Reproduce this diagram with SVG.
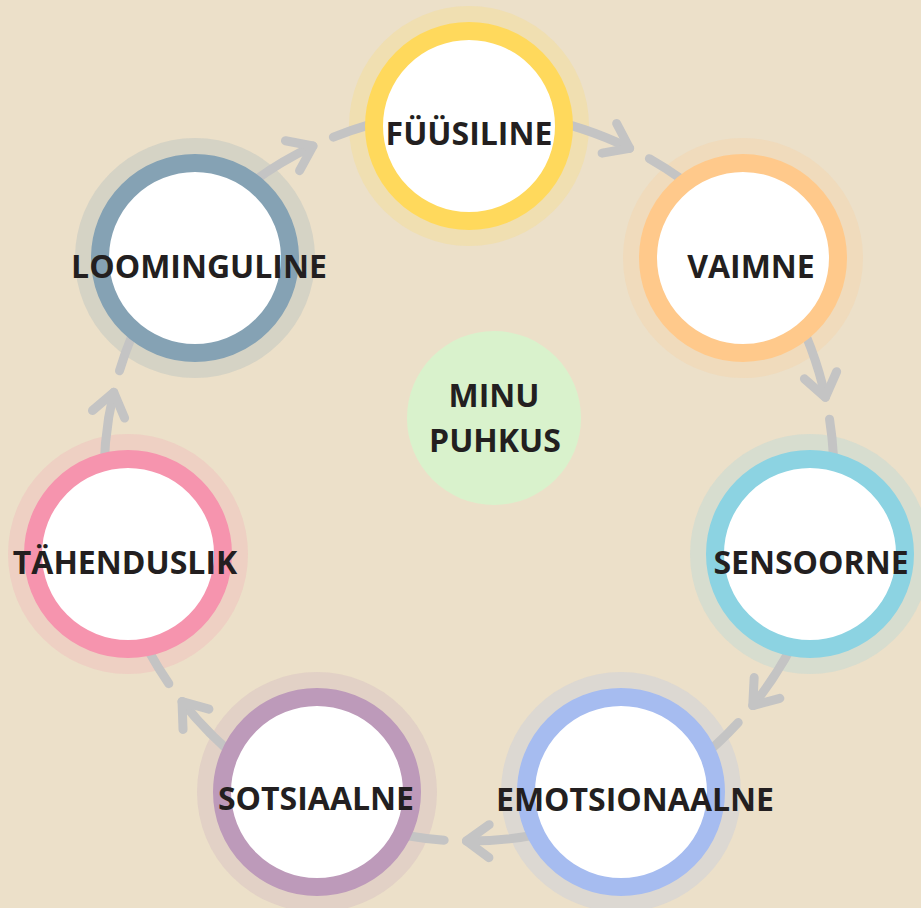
<svg xmlns="http://www.w3.org/2000/svg" width="921" height="908" viewBox="0 0 921 908">
<style>
.bg{fill:#ECE0C9}
.halo{opacity:0.22}
.ring{fill:#FFFFFF;stroke-width:18}
.lbl{font-family:"Open Sans","Liberation Sans",sans-serif;font-weight:700;font-size:32px;fill:#231F20;text-anchor:middle}
.con{fill:none;stroke:#C4C4C4;stroke-width:9;stroke-linecap:round;stroke-linejoin:round}
</style>
<defs>
<marker id="chev" markerUnits="userSpaceOnUse" orient="auto" overflow="visible" markerWidth="1" markerHeight="1" refX="0" refY="0">
<path d="M -22.6 -16.5 L 0 0 L -22.6 16.5" fill="none" stroke="#C4C4C4" stroke-width="9" stroke-linecap="round" stroke-linejoin="round"/>
</marker>
</defs>
<rect class="bg" x="0" y="0" width="921" height="908"/>
<g id="halos">
<circle class="halo" cx="469" cy="126" r="120" fill="#FFD95C"/>
<circle class="halo" cx="743" cy="258" r="120" fill="#FFC98B"/>
<circle class="halo" cx="810" cy="554" r="120" fill="#8CD3E2"/>
<circle class="halo" cx="621" cy="792" r="120" fill="#A6BCF0"/>
<circle class="halo" cx="317" cy="792" r="120" fill="#BD9ABA"/>
<circle class="halo" cx="128" cy="554" r="120" fill="#F694AE"/>
<circle class="halo" cx="195" cy="258" r="120" fill="#85A2B4"/>
</g>
<g id="connectors">
<path class="con" d="M 532.38 116.54 A 365 365 0 0 1 629.66 148.26" marker-end="url(#chev)"/>
<path class="con" d="M 649.37 158.67 A 365 365 0 0 1 710.53 202.33"/>
<path class="con" d="M 789.56 301.44 A 365 365 0 0 1 825.41 397.27" marker-end="url(#chev)"/>
<path class="con" d="M 829.53 419.17 A 365 365 0 0 1 833.54 494.21"/>
<path class="con" d="M 805.33 617.81 A 365 365 0 0 1 752.78 705.56" marker-end="url(#chev)"/>
<path class="con" d="M 738.23 722.46 A 365 365 0 0 1 682.05 772.38"/>
<path class="con" d="M 567.84 827.39 A 365 365 0 0 1 466.45 840.99" marker-end="url(#chev)"/>
<path class="con" d="M 444.17 840.15 A 365 365 0 0 1 370.16 827.39"/>
<path class="con" d="M 255.94 772.39 A 365 365 0 0 1 182.04 701.57" marker-end="url(#chev)"/>
<path class="con" d="M 168.81 683.64 A 365 365 0 0 1 132.67 617.80"/>
<path class="con" d="M 104.46 494.21 A 365 365 0 0 1 113.72 392.30" marker-end="url(#chev)"/>
<path class="con" d="M 119.50 370.76 A 365 365 0 0 1 148.44 301.44"/>
<path class="con" d="M 227.47 202.33 A 365 365 0 0 1 312.93 146.04" marker-end="url(#chev)"/>
<path class="con" d="M 333.37 137.13 A 365 365 0 0 1 405.62 116.54"/>
</g>
<g id="node-fuusiline">
<circle class="ring" cx="469" cy="126" r="95" stroke="#FFD95C"/>
<text class="lbl" x="469" y="145">FÜÜSILINE</text>
</g>
<g id="node-vaimne">
<circle class="ring" cx="743" cy="258" r="95" stroke="#FFC98B"/>
<text class="lbl" x="751" y="278">VAIMNE</text>
</g>
<g id="node-sensoorne">
<circle class="ring" cx="810" cy="554" r="95" stroke="#8CD3E2"/>
<text class="lbl" x="811" y="574">SENSOORNE</text>
</g>
<g id="node-emotsionaalne">
<circle class="ring" cx="621" cy="792" r="95" stroke="#A6BCF0"/>
<text class="lbl" x="635" y="811">EMOTSIONAALNE</text>
</g>
<g id="node-sotsiaalne">
<circle class="ring" cx="317" cy="792" r="95" stroke="#BD9ABA"/>
<text class="lbl" x="316" y="810">SOTSIAALNE</text>
</g>
<g id="node-tahenduslik">
<circle class="ring" cx="128" cy="554" r="95" stroke="#F694AE"/>
<text class="lbl" x="125" y="574">TÄHENDUSLIK</text>
</g>
<g id="node-loominguline">
<circle class="ring" cx="195" cy="258" r="95" stroke="#85A2B4"/>
<text class="lbl" x="199" y="278">LOOMINGULINE</text>
</g>
<g id="node-center">
<circle cx="494" cy="418" r="87" fill="#D9F2CC"/>
<text class="lbl" x="494" y="407" font-size="31">MINU</text>
<text class="lbl" x="495" y="452" font-size="31">PUHKUS</text>
</g>
</svg>
